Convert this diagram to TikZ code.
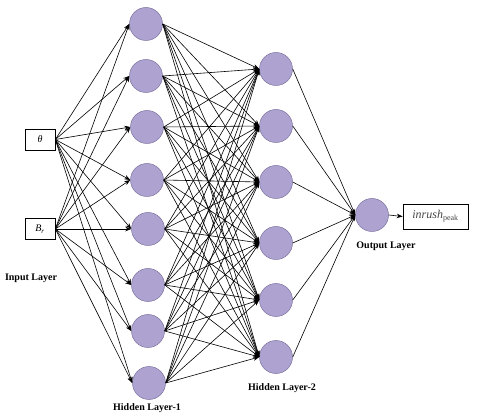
\documentclass[tikz,border=0pt]{standalone}
\usepackage{fontspec}
\setmainfont{Liberation Serif}
\usetikzlibrary{arrows.meta}
\definecolor{nodefill}{RGB}{174,163,208}
\definecolor{nodeline}{RGB}{125,115,160}
\definecolor{boxtext}{RGB}{70,70,70}
\tikzset{
  neuron/.style={circle,draw=nodeline,fill=nodefill,line width=0.5pt,minimum size=33pt,inner sep=0pt},
  inbox/.style={draw=black,line width=0.7pt,minimum width=30pt,minimum height=21pt,inner sep=0pt,font=\fontsize{10}{11}\selectfont},
  conn/.style={draw=black,line width=0.6pt,-{Stealth[length=6pt,width=4.5pt]}},
  layerlabel/.style={font=\fontsize{10}{12}\selectfont\bfseries}
}
\begin{document}
\begin{tikzpicture}[x=1pt,y=-1pt]
\useasboundingbox (0,0) rectangle (479,419);
% input boxes
\node[inbox] (in1) at (40,139.5) {\textit{θ}};
\node[inbox] (in2) at (40,229) {\textit{B}\textsubscript{\textit{r}}};
% hidden layer 1
\foreach \i/\y/\x in {1/24/146,2/76/146,3/127/147,4/180/147,5/229/148,6/285/148,7/331/148,8/383/149}
  \node[neuron] (h1-\i) at (\x,\y) {};
% hidden layer 2
\foreach \j/\y in {1/69,2/126,3/182,4/243,5/300,6/357}
  \node[neuron] (h2-\j) at (276,\y) {};
% output
\node[neuron] (out) at (372,215) {};
\node[draw=black,line width=0.7pt,minimum width=65pt,minimum height=25pt,inner sep=0pt,text=boxtext,font=\fontsize{12}{13}\selectfont] (ob) at (435.5,216.5) {\textit{inrush}\textsubscript{peak}};
% connections
\foreach \k in {1,2}
  \foreach \i in {1,...,8}
    \draw[conn] (in\k.east) -- (h1-\i.west);
\foreach \i in {1,...,8}
  \foreach \j in {1,...,6}
    \draw[conn] (h1-\i.east) -- (h2-\j.west);
\foreach \j in {1,...,6}
  \draw[conn] (h2-\j.east) -- (out.west);
\draw[conn] (out.east) -- (ob.west);
% labels
\node[layerlabel] (l0) at (31,278) {Input Layer};
\node[layerlabel] (l1) at (147,408) {Hidden Layer-1};
\node[layerlabel] (l2) at (282,388) {Hidden Layer-2};
\node[layerlabel] (l3) at (386,246) {Output Layer};
\end{tikzpicture}
\end{document}
